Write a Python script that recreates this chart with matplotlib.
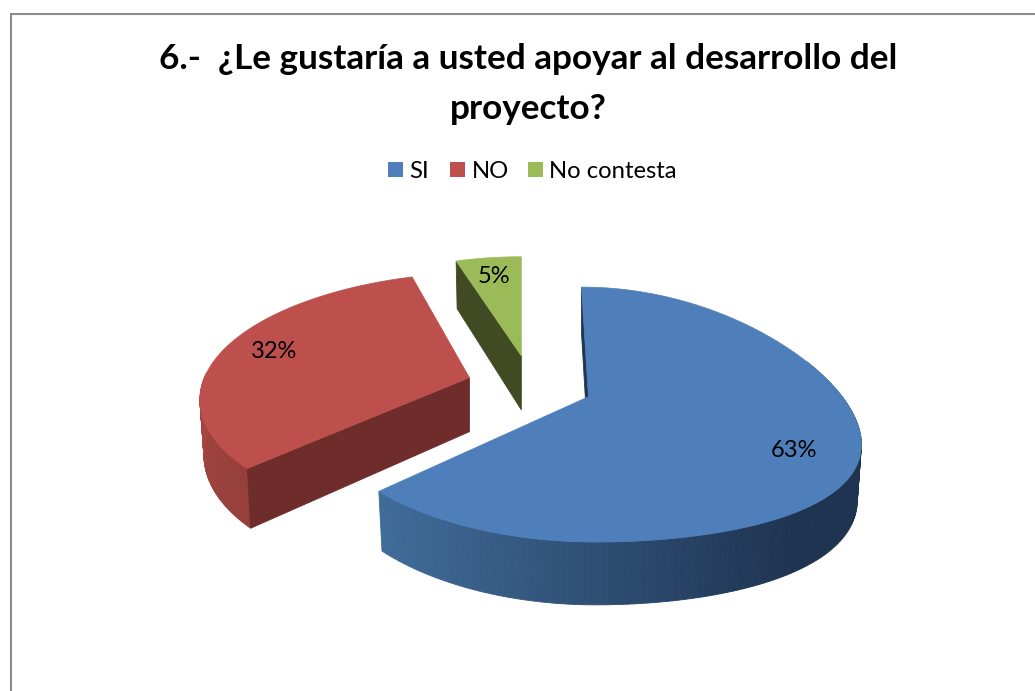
import numpy as np
import matplotlib
matplotlib.use('Agg')
import matplotlib.pyplot as plt
from matplotlib.patches import Polygon, Rectangle

title = '6.-  ¿Le gustaría a usted apoyar al desarrollo del\nproyecto?'
labels = ['SI', 'NO', 'No contesta']
shares = [63, 32, 5]

top_colors = ['#4f7fba', '#bd504d', '#9bbb59']
face_colors = ['#1f3552', '#6e2c2a', '#404a23']

# pie geometry, in pixels of the picture
cx, cy = 530, 385
explode = 0.236
rx = [270, 265, 235]
ry = [125, 120, 113]
lean = [-7, 17, 0]
tilt = [30, 0, 0]
kx, ky = 0.12, 0.14
depth = 54


def project(i, ax_pt, a):
    # a in degrees, clockwise from the top of the pie
    a = np.radians(a)
    t = np.cos(a)
    s = np.sin(a)
    x = ax_pt[0] + rx[i] * s / (1 + kx * t) + lean[i] * t
    y = ax_pt[1] - ry[i] * t / (1 + ky * t) + tilt[i] * np.clip(s, 0, 1) ** 2
    return np.column_stack([x, y])


def drop(pts, apex, a):
    # same points on the lower edge of the slice
    t = np.cos(np.radians(a))
    p = 1 / (1 + ky * t)
    out = np.array(pts, dtype=float)
    out[:, 0] = apex[0] + (out[:, 0] - apex[0]) * 0.985
    out[:, 1] = out[:, 1] + depth * p
    return out


def side_color(i, x, a):
    if i == 0:
        f = np.clip((x - 380) / 420, 0, 1)
        return np.array([64, 108, 154]) * (1 - f) + np.array([30, 51, 80]) * f
    f = np.clip((a - 227) / 40, 0, 1)
    return np.array([150, 62, 59]) * (1 - f) + np.array([166, 70, 66]) * f


fig = plt.figure(figsize=(10.35, 6.91), dpi=100)
ax = fig.add_axes([0, 0, 1, 1])
ax.set_xlim(0, 1035)
ax.set_ylim(691, 0)
ax.axis('off')

plt.rcParams['font.family'] = ['Lato', 'DejaVu Sans']

ax.add_patch(Rectangle((10.5, 14), 1060, 800, fc='white', ec='#8c8c8c', lw=1.5))

ax.text(528, 84, title, ha='center', va='center', fontsize=25.3, fontweight='bold',
        linespacing=1.69, color='black')

# legend
for sx, tx, lab, col in zip([388, 450, 528], [409, 472, 549], labels, top_colors):
    ax.add_patch(Rectangle((sx, 162), 15, 15, fc=col, ec='none'))
    ax.text(tx, 171, lab, ha='left', va='center', fontsize=17.2, color='black')

angles = np.cumsum([0] + shares) * 3.6
for i in [2, 1, 0]:
    a0, a1 = angles[i], angles[i + 1]
    mid = np.radians((a0 + a1) / 2)
    apex = np.array([cx + explode * rx[i] * np.sin(mid), cy - explode * 125 * np.cos(mid)])
    aa = np.linspace(a0, a1, 181)
    rim = project(i, apex, aa)
    low = drop(rim, apex, aa)

    # outer wall, only the part that faces the viewer
    for j in range(len(aa) - 1):
        if aa[j] < 60 or aa[j] > 272:
            continue
        quad = [rim[j], rim[j + 1], low[j + 1], low[j]]
        c = side_color(i, rim[j][0], aa[j]) / 255
        ax.add_patch(Polygon(quad, closed=True, fc=c, ec=c, lw=0.6))

    # cut faces that can be seen from the front
    inner = rim[len(rim) // 2] - apex
    for k in [0, -1]:
        e = rim[k] - apex
        if e[0] * (e[0] * inner[1] - e[1] * inner[0]) < 0:
            quad = [apex, rim[k], low[k], apex + [0, depth]]
            ax.add_patch(Polygon(quad, closed=True, fc=face_colors[i], ec=face_colors[i], lw=0.6))

    top = np.vstack([apex, rim])
    ax.add_patch(Polygon(top, closed=True, fc=top_colors[i], ec=top_colors[i], lw=0.5))

# slice labels
for val, lx, ly in zip(shares, [794, 274, 494], [450, 351, 276]):
    ax.text(lx, ly, f'{val}%', ha='center', va='center', fontsize=17, color='black')

fig.savefig('out.png', dpi=100)
